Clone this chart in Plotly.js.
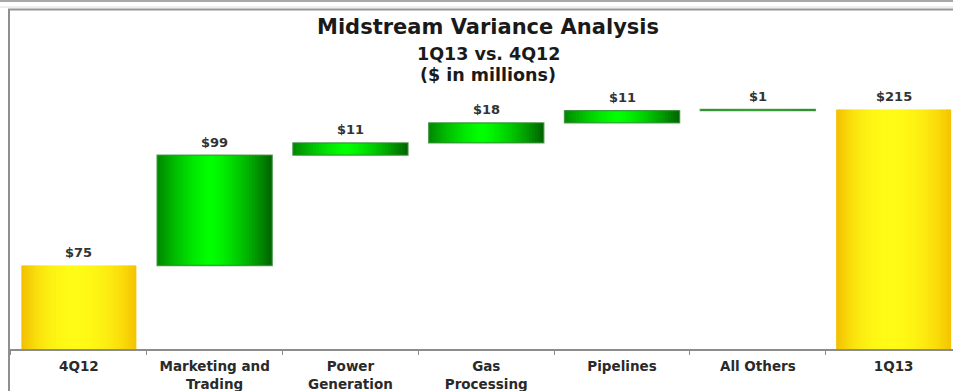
<!DOCTYPE html>
<html>
<head>
<meta charset="utf-8">
<script src="https://cdn.plot.ly/plotly-3.0.1.min.js"></script>
<style>
  html, body { margin: 0; padding: 0; background: #fff; }
  #chart { width: 953px; height: 391px; }
</style>
</head>
<body>
<div id="chart"></div>
<script>
// Midstream variance bridge, 4Q12 -> 1Q13 ($ in millions)
const categories = ['4Q12', 'Marketing and<br>Trading', 'Power<br>Generation', 'Gas<br>Processing', 'Pipelines', 'All Others', '1Q13'];
const amounts = [75, 99, 11, 18, 11, 1, 215];
const kinds = ['total', 'delta', 'delta', 'delta', 'delta', 'delta', 'total'];
const labels = ['$75', '$99', '$11', '$18', '$11', '$1', '$215'];

// Floating bar geometry: totals start at zero, deltas stack on the running sum
const bases = [];
const heights = [];
let running = 0;
for (let i = 0; i < amounts.length; i++) {
  if (kinds[i] === 'total') {
    bases.push(0);
    heights.push(amounts[i]);
    running = amounts[i];
  } else {
    bases.push(running);
    heights.push(amounts[i]);
    running += amounts[i];
  }
}
const tops = bases.map((b, i) => b + heights[i]);

// Horizontal shading: dark edges, bright centre
const palette = {
  total: { left: [242, 190, 0], mid: [255, 250, 22], right: [245, 194, 0] },
  delta: { left: [0, 135, 0], mid: [0, 255, 0], right: [0, 98, 0] }
};
function shade(kind, t) {
  const p = palette[kind];
  const c = 0.46;
  const edge = t < c ? p.left : p.right;
  const s = t < c ? t / c : (1 - t) / (1 - c);
  const w = kind === 'total' ? 1 - Math.pow(1 - s, 2.2) : 1 - Math.pow(1 - s, 1.4);
  const rgb = edge.map((e, k) => Math.round(e + (p.mid[k] - e) * w));
  return 'rgb(' + rgb.join(',') + ')';
}

const BAR_W = 0.847;
const SLICES = 40;
const sliceW = BAR_W / SLICES;
const traces = [];
for (let j = 0; j < SLICES; j++) {
  const t = (j + 0.5) / SLICES;
  const overlap = j < SLICES - 1 ? sliceW * 0.35 : 0;
  traces.push({
    type: 'bar',
    x: categories,
    y: heights,
    base: bases,
    width: sliceW + overlap,
    offset: -BAR_W / 2 + j * sliceW,
    marker: { color: kinds.map(k => shade(k, t)), line: { width: 0 } },
    hoverinfo: 'skip',
    showlegend: false
  });
}
// Thin outline on the change bars
traces.push({
  type: 'bar',
  x: categories,
  y: heights,
  base: bases,
  width: BAR_W,
  marker: {
    color: 'rgba(0,0,0,0)',
    line: { width: 1.4, color: kinds.map(k => k === 'delta' ? 'rgba(45,135,45,0.8)' : 'rgba(0,0,0,0)') }
  },
  hoverinfo: 'skip',
  showlegend: false
});

// Frame decoration in pixel terms of the plot box (x 10..953, y 9..349)
const PL = 10, PR = 953, PT = 9, PB = 349;
const px = v => (v - PL) / (PR - PL);
const py = v => (PB - v) / (PB - PT);
const shapes = [
  { type: 'line', xref: 'paper', yref: 'paper', x0: px(0), x1: px(953), y0: py(1), y1: py(1), line: { color: '#a8a8a8', width: 2 } },
  { type: 'line', xref: 'paper', yref: 'paper', x0: px(0), x1: px(953), y0: py(7), y1: py(7), line: { color: '#dcdcdc', width: 1 } },
  { type: 'line', xref: 'paper', yref: 'paper', x0: px(8), x1: px(953), y0: py(9.5), y1: py(9.5), line: { color: '#959595', width: 2 } },
  { type: 'line', xref: 'paper', yref: 'paper', x0: px(9), x1: px(9), y0: py(9), y1: py(391), line: { color: '#8f8f8f', width: 2 } }
];

const labelFont = { family: 'DejaVu Sans', size: 13, color: '#333333', weight: 'bold' };
const annotations = categories.map((c, i) => ({
  x: c, y: tops[i], xref: 'x', yref: 'y',
  text: '<b>' + labels[i] + '</b>',
  showarrow: false, yshift: 13, yanchor: 'middle',
  font: labelFont
}));
annotations.push(
  { xref: 'paper', yref: 'paper', x: px(488), y: py(27), text: '<b>Midstream Variance Analysis</b>', showarrow: false, xanchor: 'center', yanchor: 'middle', font: { family: 'DejaVu Sans', size: 21, color: '#1a1a1a' } },
  { xref: 'paper', yref: 'paper', x: px(488), y: py(54), text: '<b>1Q13 vs. 4Q12</b>', showarrow: false, xanchor: 'center', yanchor: 'middle', font: { family: 'DejaVu Sans', size: 17.5, color: '#1a1a1a' } },
  { xref: 'paper', yref: 'paper', x: px(488), y: py(75), text: '<b>($ in millions)</b>', showarrow: false, xanchor: 'center', yanchor: 'middle', font: { family: 'DejaVu Sans', size: 17.5, color: '#1a1a1a' } }
);

const layout = {
  width: 953, height: 391,
  margin: { l: PL, r: 953 - PR, t: PT, b: 391 - PB, pad: 0 },
  paper_bgcolor: '#ffffff',
  plot_bgcolor: '#ffffff',
  barmode: 'overlay',
  showlegend: false,
  xaxis: {
    type: 'category',
    range: [-0.507, 6.437],
    showgrid: false, zeroline: false,
    showline: true, linecolor: '#8c8c8c', linewidth: 2,
    ticks: 'outside', ticklen: 4, tickwidth: 1, tickcolor: '#8c8c8c',
    tickson: 'boundaries',
    ticklabelstandoff: 4,
    tickfont: { family: 'DejaVu Sans', size: 13.5, color: '#2a2a2a', weight: 'bold' },
    fixedrange: true
  },
  yaxis: {
    range: [0, 305.2],
    visible: false,
    fixedrange: true
  },
  shapes: shapes,
  annotations: annotations
};

Plotly.newPlot('chart', traces, layout, { displayModeBar: false, staticPlot: true });
</script>
</body>
</html>
